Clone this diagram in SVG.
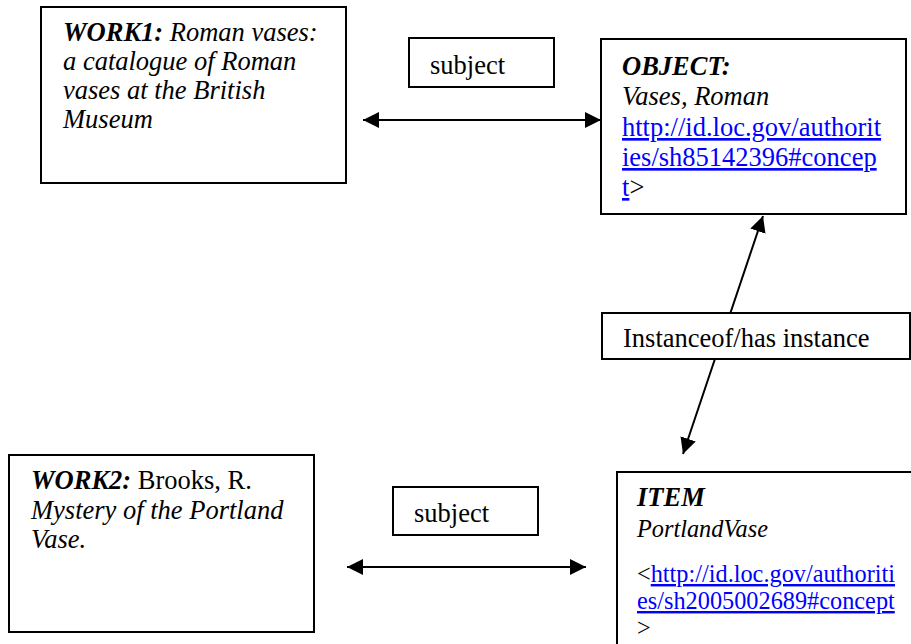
<svg xmlns="http://www.w3.org/2000/svg" width="911" height="644" viewBox="0 0 911 644">
<style>
.box{fill:#fff;stroke:#000;stroke-width:2}
.t{font-family:"Liberation Serif","Times New Roman",serif;font-size:26.5px;fill:#000}
.s24{font-size:24.3px}
.i{font-style:italic}
.bi{font-style:italic;font-weight:bold}
.lnk{fill:#0000ff;text-decoration:underline}
.con{stroke:#000;stroke-width:2;fill:none;marker-start:url(#ah);marker-end:url(#ah)}
</style>
<defs>
<marker id="ah" viewBox="0 0 16 16" refX="16" refY="8" markerWidth="16" markerHeight="16" markerUnits="userSpaceOnUse" orient="auto-start-reverse">
<path d="M0,0 L16,8 L0,16 Z" fill="#000"/>
</marker>
</defs>
<rect width="911" height="644" fill="#fff"/>
<g id="connectors">
<line class="con" x1="363" y1="120" x2="601" y2="120"/>
<line class="con" x1="347" y1="567" x2="586" y2="567"/>
<line class="con" x1="683" y1="454" x2="763" y2="216"/>
</g>
<g id="work1">
<rect class="box" x="41" y="7" width="305" height="176"/>
<text class="t i" x="63" y="41"><tspan class="bi">WORK1:</tspan> Roman vases:</text>
<text class="t i" x="63" y="70">a catalogue of Roman</text>
<text class="t i" x="63" y="99">vases at the British</text>
<text class="t i" x="63" y="128">Museum</text>
</g>
<g id="label-subject-top">
<rect class="box" x="409" y="38" width="145" height="49"/>
<text class="t" x="430" y="74">subject</text>
</g>
<g id="object">
<rect class="box" x="601" y="39" width="305" height="175"/>
<text class="t bi" x="622" y="75">OBJECT:</text>
<text class="t i" x="622" y="105">Vases, Roman</text>
<text class="t lnk" x="622" y="136">http://id.loc.gov/authorit</text>
<text class="t lnk" x="622" y="166">ies/sh85142396#concep</text>
<text class="t" x="622" y="196"><tspan class="lnk">t</tspan>&gt;</text>
</g>
<g id="label-instance">
<rect class="box" x="602" y="313" width="308" height="46"/>
<text class="t" x="623" y="347">Instanceof/has instance</text>
</g>
<g id="work2">
<rect class="box" x="9" y="455" width="305" height="177"/>
<text class="t" x="31" y="489"><tspan class="bi">WORK2:</tspan> Brooks, R.</text>
<text class="t i" x="31" y="519">Mystery of the Portland</text>
<text class="t i" x="31" y="548">Vase.</text>
</g>
<g id="label-subject-bottom">
<rect class="box" x="393" y="487" width="145" height="48"/>
<text class="t" x="414" y="522">subject</text>
</g>
<g id="item">
<rect class="box" x="617" y="472" width="310" height="190"/>
<text class="t bi" x="637" y="506">ITEM</text>
<text class="t i s24" x="637" y="537">PortlandVase</text>
<text class="t s24" x="637" y="582">&lt;<tspan class="lnk">http://id.loc.gov/authoriti</tspan></text>
<text class="t s24 lnk" x="637" y="609">es/sh2005002689#concept</text>
<text class="t s24" x="637" y="636">&gt;</text>
</g>
</svg>
